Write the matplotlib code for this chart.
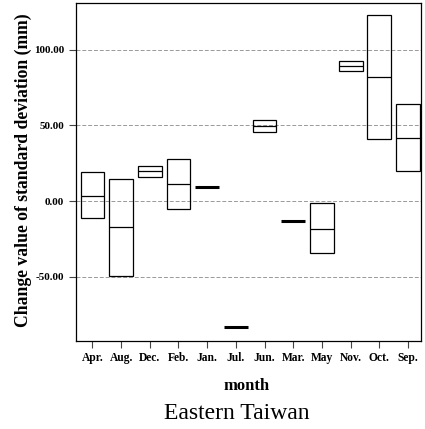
import matplotlib
matplotlib.use("Agg")
import matplotlib.pyplot as plt
import numpy as np

months = ["Apr.", "Aug.", "Dec.", "Feb.", "Jan.", "Jul.", "Jun.", "Mar.", "May", "Nov.", "Oct.", "Sep."]
low = [-11.0, -49.4, 15.9, -5.1, 9.5, -84.3, 45.4, -13.2, -34.4, 85.7, 41.0, 19.8]
median = [3.5, -17.4, 19.8, 11.4, 9.5, -83.5, 49.6, -13.2, -18.3, 89.0, 82.0, 41.6]
high = [19.0, 14.3, 22.9, 27.5, 9.5, -82.7, 53.3, -13.2, -1.5, 92.7, 123.1, 63.9]
yticks = [-50, 0, 50, 100]

plt.rcParams["font.family"] = ["Liberation Serif", "DejaVu Serif"]

fig = plt.figure(figsize=(4.25, 4.29), dpi=100)
ax = fig.add_axes([0.179, 0.205, 0.812, 0.788])

x = np.arange(len(months))
width = 0.83
for xi, lo, md, hi in zip(x, low, median, high):
    if hi - lo < 2:
        ax.hlines(md, xi - width / 2, xi + width / 2, color="black", lw=2.2, zorder=3)
    else:
        ax.bar(xi, hi - lo, bottom=lo, width=width, fill=False,
               edgecolor="black", lw=0.9, zorder=3)
        ax.hlines(md, xi - width / 2, xi + width / 2, color="black", lw=0.9, zorder=3)

ax.set_xlim(-0.57, 11.46)
ax.set_ylim(-92.5, 130.9)
ax.set_yticks(yticks)
ax.set_yticklabels([f"{v:.2f}" for v in yticks], fontsize=8, fontweight="bold")
ax.set_xticks(x)
ax.set_xticklabels(months, fontsize=8.3, fontweight="bold")
ax.yaxis.grid(True, linestyle=(0, (4, 2)), color="#999999", lw=0.7)
ax.set_axisbelow(True)
ax.tick_params(axis="both", length=5, width=0.8, color="#444444")
ax.tick_params(axis="x", pad=3)

for s in ax.spines.values():
    s.set_linewidth(0.9)

fig.text(0.056, 0.603, "Change value of standard deviation (mm)", rotation=90,
         ha="center", va="center", fontsize=12.7, fontweight="bold")
fig.text(0.579, 0.100, "month", ha="center", va="center", fontsize=12, fontweight="bold")
fig.text(0.558, 0.036, "Eastern Taiwan", ha="center", va="center", fontsize=17)

fig.savefig("out.png", dpi=100)
